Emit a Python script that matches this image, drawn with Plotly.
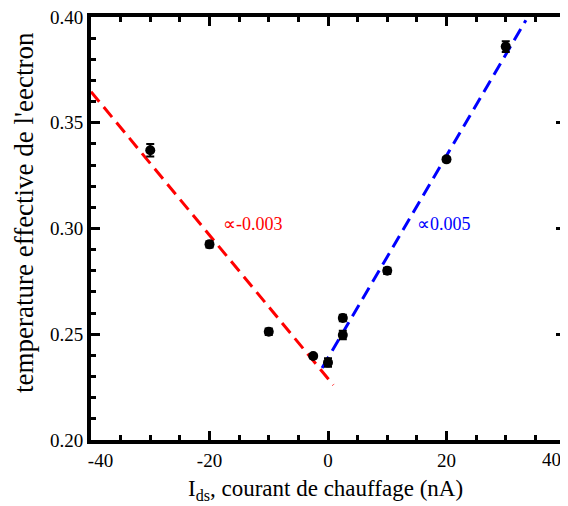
import plotly.graph_objects as go

# measured points
current_nA = [-30, -20, -10, -2.5, 0, 2.5, 2.5, 10, 20, 30]
temperature = [0.337, 0.2925, 0.2512, 0.2397, 0.2366, 0.2577, 0.2496, 0.280, 0.3327, 0.386]
temp_err = [0.003, 0.0015, 0.0015, 0.001, 0.002, 0.0015, 0.002, 0.0015, 0.001, 0.0025]

# linear fits (endpoints)
fit_neg_x = [-40, 0.9]
fit_neg_y = [0.3647, 0.226]
fit_pos_x = [-1.0, 33.4]
fit_pos_y = [0.234, 0.3985]

x_tick_vals = [-40, -20, 0, 20]
x_tick_text = ["\u2007\u2007-40", "-20", "0", "20"]
x_last_tick = 40
y_tick_vals = [0.20, 0.25, 0.30, 0.35, 0.40]
y_tick_text = ["0.20", "0.25", "0.30", "0.35", "0.40"]

x_title = "I<sub>ds</sub>, courant de chauffage (nA)"
y_title = "temperature effective de l'eectron"
slope_neg_label = "\u221d-0.003"
slope_pos_label = "\u221d0.005"

FONT = "Liberation Serif, serif"

fig = go.Figure()
fig.add_trace(go.Scatter(x=fit_neg_x, y=fit_neg_y, mode="lines",
                         line=dict(color="#ff0000", width=3, dash="13px,7px"),
                         showlegend=False, hoverinfo="skip"))
fig.add_trace(go.Scatter(x=fit_pos_x, y=fit_pos_y, mode="lines",
                         line=dict(color="#0000ff", width=3, dash="13px,7px"),
                         showlegend=False, hoverinfo="skip"))
fig.add_trace(go.Scatter(x=current_nA, y=temperature, mode="markers",
                         marker=dict(color="black", size=10, symbol="circle"),
                         error_y=dict(type="data", array=temp_err, visible=True,
                                      color="black", thickness=2, width=4),
                         showlegend=False))

fig.add_annotation(x=-18, y=0.302, text=slope_neg_label, showarrow=False,
                   xanchor="left", yanchor="middle",
                   font=dict(family=FONT, size=18, color="#ff0000"))
fig.add_annotation(x=14.6, y=0.302, text=slope_pos_label, showarrow=False,
                   xanchor="left", yanchor="middle",
                   font=dict(family=FONT, size=18, color="#0000ff"))
# last x tick label, pulled inward like the reference
fig.add_annotation(x=x_last_tick, y=0.20, text=str(x_last_tick), showarrow=False,
                   xanchor="center", yanchor="middle", xshift=-14, yshift=-19,
                   font=dict(family=FONT, size=19, color="black"))
# axis titles
fig.add_annotation(xref="paper", yref="paper", x=-0.141, y=0.537, text=y_title,
                   textangle=-90, showarrow=False, xanchor="center", yanchor="middle",
                   font=dict(family=FONT, size=27, color="black"))
fig.add_annotation(xref="paper", yref="paper", x=0.494, y=-0.118, text=x_title,
                   showarrow=False, xanchor="center", yanchor="middle",
                   font=dict(family=FONT, size=23, color="black"))

fig.update_xaxes(range=[-40, 40], tickmode="array", tickvals=x_tick_vals, ticktext=x_tick_text,
                 showline=True, linecolor="black", linewidth=4, mirror="allticks",
                 ticks="inside", ticklen=9, tickwidth=3, tickcolor="black",
                 showgrid=False, zeroline=False, automargin=False, ticklabeloverflow="allow",
                 tickfont=dict(family=FONT, size=19, color="black"),
                 minor=dict(tickmode="linear", tick0=-40, dtick=5, ticks="inside", ticklen=5,
                            tickwidth=3, tickcolor="black", showgrid=False))
fig.update_yaxes(range=[0.20, 0.40], tickmode="array", tickvals=y_tick_vals, ticktext=y_tick_text,
                 showline=True, linecolor="black", linewidth=4, mirror="allticks",
                 ticks="inside", ticklen=9, tickwidth=3, tickcolor="black",
                 showgrid=False, zeroline=False, automargin=False, ticklabeloverflow="allow",
                 tickfont=dict(family=FONT, size=19, color="black"),
                 minor=dict(tickmode="linear", tick0=0.20, dtick=0.01, ticks="inside", ticklen=5,
                            tickwidth=3, tickcolor="black", showgrid=False))

fig.update_layout(width=560, height=498, margin=dict(l=83, r=3, t=9, b=66),
                  plot_bgcolor="white", paper_bgcolor="white", showlegend=False,
                  font=dict(family=FONT, color="black"))

fig.write_html("out.html")
